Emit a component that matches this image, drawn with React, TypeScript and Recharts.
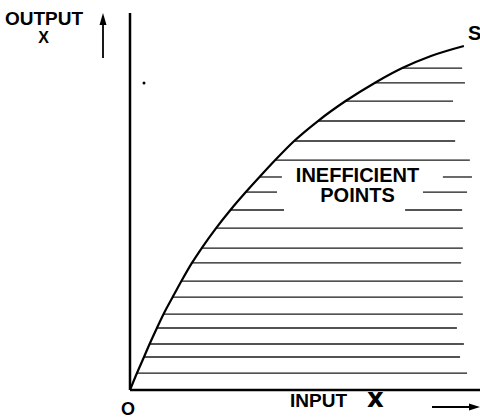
import { ComposedChart, Line, XAxis, YAxis, ReferenceLine } from "recharts";

// production frontier S (input 0-100, output 0-100)
const curveX = [0, 2.0, 4.0, 5.6, 7.7, 9.6, 12.2, 14.7, 17.7, 20.5, 24.6, 28.7, 33.1, 37.0, 41.5, 46.9, 53.7, 61.6, 69.9, 77.8, 86.0, 95.4];
const curveY = [0, 4.5, 8.75, 12.2, 16.45, 20.15, 24.65, 28.9, 33.7, 37.65, 42.95, 47.75, 52.5, 56.5, 61.0, 66.05, 71.35, 76.65, 81.45, 85.4, 88.6, 91.25];

// hatching: one line from each curve point (index 1..19) out to the right
const hatchEnd = [96.3, 94.3, 95.4, 93.4, 95.1, 95.1, 95.1, 94.6, 95.1, 95.1, 94.9, 96.3, 97.7, 97.1, 92.9, 95.7, 92.3, 95.7, 94.9];

// rows broken by the "INEFFICIENT POINTS" text
const gapRows = [11, 12, 13];
const gapStart = [44.0, 42.0, 43.4];
const gapEnd = [78.6, 83.7, 89.4];

const curve = curveX.map((x, i) => ({ x, y: curveY[i] }));

const hatches = hatchEnd.flatMap((end, k) => {
  const i = k + 1;
  const y = curveY[i];
  const g = gapRows.indexOf(i);
  if (g >= 0) {
    return [
      [curveX[i], gapStart[g], y],
      [gapEnd[g], end, y],
    ];
  }
  return [[curveX[i], end, y]];
});

const font = "'Liberation Sans', Arial, sans-serif";

const App = () => {
  return (
    <div style={{ position: "absolute", left: 0, top: 0, width: 480, height: 419, background: "#fff" }}>
      <ComposedChart width={480} height={419} data={curve} margin={{ top: 13, right: 0, left: 130, bottom: 29 }}>
        <XAxis type="number" dataKey="x" domain={[0, 100]} allowDataOverflow hide />
        <YAxis type="number" domain={[0, 100]} allowDataOverflow hide />
        {hatches.map(([a, b, y], i) => (
          <ReferenceLine
            key={i}
            segment={[{ x: a, y }, { x: b, y }]}
            stroke="#1a1a1a"
            strokeWidth={1.3}
          />
        ))}
        <ReferenceLine x={0} stroke="#000" strokeWidth={2.5} />
        <ReferenceLine y={0} stroke="#000" strokeWidth={2.5} />
        <Line
          type="monotone"
          dataKey="y"
          stroke="#000"
          strokeWidth={2.2}
          dot={false}
          isAnimationActive={false}
        />
      </ComposedChart>
      <svg
        width={480}
        height={419}
        style={{ position: "absolute", left: 0, top: 0, pointerEvents: "none" }}
        fontFamily={font}
        fontWeight="bold"
        fill="#000"
      >
        <text x={5} y={25} fontSize={19}>OUTPUT</text>
        <text x={43.5} y={43} fontSize={16} textAnchor="middle">X</text>
        <line x1={103} y1={58} x2={103} y2={22} stroke="#000" strokeWidth={1.8} />
        <polygon points="103,13 99.5,25 106.5,25" />
        <circle cx={144} cy={83} r={1.5} />
        <text x={468} y={40} fontSize={20}>S</text>
        <text x={357.5} y={182} fontSize={20} textAnchor="middle">INEFFICIENT</text>
        <text x={357.5} y={202} fontSize={20} textAnchor="middle">POINTS</text>
        <text x={128} y={415} fontSize={18} textAnchor="middle">O</text>
        <text x={290} y={407} fontSize={19}>INPUT</text>
        <text x={367} y={407} fontSize={26} fontFamily="'DejaVu Sans', sans-serif">x</text>
        <line x1={432} y1={407} x2={472} y2={407} stroke="#000" strokeWidth={1.8} />
        <polygon points="480,407 469,403.5 469,410.5" />
      </svg>
    </div>
  );
};

export default App;
